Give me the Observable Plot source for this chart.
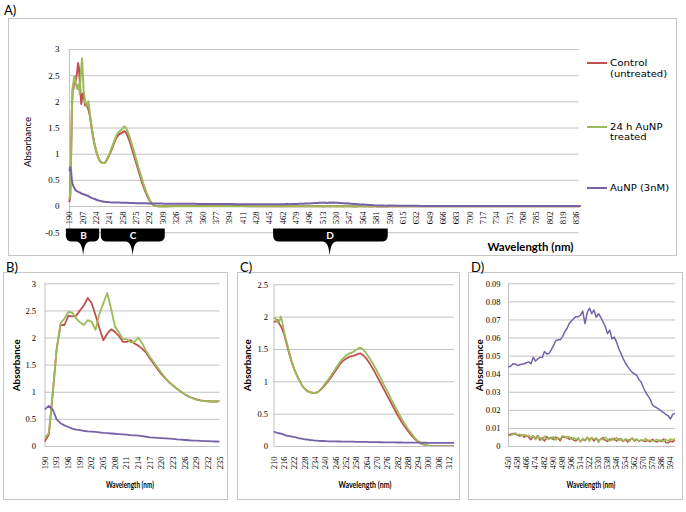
<!DOCTYPE html>
<html><head><meta charset="utf-8">
<script src="https://cdn.jsdelivr.net/npm/d3@7"></script>
<script src="https://cdn.jsdelivr.net/npm/@observablehq/plot@0.6"></script>
<style>
body{margin:0;background:#fff}
#fig{position:relative;width:686px;height:512px;overflow:hidden;background:#fff}
.box{position:absolute;border:1px solid #c6c6c6;box-sizing:border-box}
.t{position:absolute;white-space:nowrap;line-height:1;color:#000}
</style></head><body><div id="fig"></div>
<script>
// ---------------- data ----------------
const seriesNames = ["Control (untreated)", "24 h AuNP treated", "AuNP (3nM)"];
const seriesColors = ["#C0504D", "#9BBB59", "#7662A6"];

// 190-235 nm, 1 nm step
const wl1 = d3.range(190, 236, 1);
const red1 = [0.10,0.22,0.98,1.80,2.24,2.24,2.41,2.40,2.41,2.51,
  2.60,2.74,2.64,2.42,2.18,1.96,2.08,2.16,2.11,2.04,
  1.93,1.93,1.96,1.90,1.86,1.80,1.73,1.62,1.52,1.42,
  1.33,1.25,1.18,1.12,1.06,1.01,0.96,0.92,0.89,0.87,
  0.85,0.84,0.835,0.83,0.83,0.835];
const green1 = [0.16,0.25,1.00,1.80,2.27,2.36,2.48,2.47,2.36,2.29,
  2.24,2.33,2.30,2.15,2.45,2.64,2.83,2.54,2.21,2.11,
  1.98,1.98,1.92,1.93,2.01,1.90,1.76,1.65,1.55,1.45,
  1.35,1.26,1.18,1.12,1.06,1.01,0.96,0.92,0.885,0.86,
  0.845,0.835,0.83,0.83,0.83,0.84];
const purple1 = [0.69,0.75,0.68,0.50,0.43,0.39,0.36,0.33,0.31,0.30,
  0.29,0.28,0.275,0.27,0.26,0.25,0.245,0.24,0.235,0.23,
  0.225,0.22,0.21,0.205,0.20,0.19,0.18,0.17,0.165,0.16,
  0.155,0.15,0.145,0.14,0.13,0.125,0.12,0.115,0.11,0.108,
  0.105,0.10,0.098,0.095,0.092,0.09];

// 236-316 nm, 2 nm step
const wl2 = d3.range(236, 317, 2);
const red2 = [0.85,0.90,0.96,1.03,1.10,1.18,1.26,1.32,1.36,1.39,
  1.40,1.42,1.44,1.41,1.35,1.27,1.18,1.08,0.98,0.88,
  0.78,0.68,0.58,0.48,0.39,0.31,0.235,0.17,0.115,0.07,
  0.04,0.022,0.012,0.008,0.006,0.005,0.006,0.005,0.006,0.005,
  0.006];
const green2 = [0.85,0.91,0.98,1.05,1.13,1.21,1.29,1.36,1.41,1.44,
  1.46,1.50,1.53,1.50,1.43,1.35,1.26,1.16,1.06,0.95,
  0.85,0.74,0.64,0.54,0.44,0.35,0.27,0.20,0.13,0.08,
  0.045,0.025,0.012,0.005,0.002,0.0,0.001,0.0,0.002,0.001,
  0.003];
const purple2 = [0.088,0.085,0.082,0.080,0.079,0.078,0.077,0.076,0.075,0.075,
  0.074,0.073,0.072,0.071,0.070,0.069,0.068,0.067,0.066,0.065,
  0.064,0.064,0.063,0.062,0.062,0.061,0.061,0.060,0.060,0.059,
  0.058,0.058,0.057,0.057,0.056,0.056,0.056,0.055,0.055,0.055,
  0.055];

// 324-444 nm, 8 nm step
const wl3 = d3.range(324, 445, 8);
const red3 = [0.008,0.009,0.010,0.010,0.011,0.010,0.010,0.009,0.009,0.008,0.008,0.008,0.007,0.007,0.007,0.007];
const green3 = [0.004,0.005,0.006,0.006,0.007,0.007,0.007,0.006,0.006,0.006,0.006,0.006,0.006,0.006,0.006,0.006];
const purple3 = [0.054,0.053,0.052,0.051,0.050,0.049,0.048,0.048,0.047,0.046,0.045,0.045,0.044,0.044,0.044,0.044];

// 450-598 nm, 2 nm step
const wl4 = d3.range(450, 599, 2);
const red4 = [0.0065,0.0068,0.0072,0.0070,0.0062,0.0058,0.0064,0.0052,0.0062,0.0050,
  0.0038,0.0058,0.0045,0.0060,0.0035,0.0048,0.0030,0.0055,0.0042,0.0050,
  0.0038,0.0052,0.0045,0.0032,0.0055,0.0050,0.0052,0.0040,0.0048,0.0035,
  0.0030,0.0045,0.0028,0.0040,0.0032,0.0050,0.0038,0.0048,0.0030,0.0045,
  0.0032,0.0040,0.0050,0.0035,0.0028,0.0042,0.0036,0.0045,0.0030,0.0042,
  0.0038,0.0028,0.0040,0.0025,0.0038,0.0045,0.0030,0.0040,0.0028,0.0035,
  0.0030,0.0028,0.0035,0.0026,0.0040,0.0030,0.0025,0.0035,0.0028,0.0042,
  0.0022,0.0020,0.0030,0.0025,0.0035];
const green4 = [0.0060,0.0062,0.0068,0.0075,0.0065,0.0068,0.0058,0.0066,0.0055,0.0062,
  0.0050,0.0060,0.0038,0.0056,0.0048,0.0036,0.0058,0.0040,0.0050,0.0042,
  0.0055,0.0035,0.0048,0.0042,0.0060,0.0055,0.0045,0.0056,0.0040,0.0050,
  0.0038,0.0048,0.0025,0.0045,0.0035,0.0052,0.0028,0.0050,0.0040,0.0048,
  0.0022,0.0045,0.0036,0.0052,0.0040,0.0030,0.0046,0.0035,0.0050,0.0032,
  0.0045,0.0030,0.0042,0.0038,0.0030,0.0048,0.0035,0.0042,0.0030,0.0038,
  0.0032,0.0045,0.0030,0.0035,0.0030,0.0032,0.0040,0.0030,0.0036,0.0028,
  0.0040,0.0030,0.0042,0.0035,0.0045];
const purple4 = [0.0441,0.0444,0.0458,0.0457,0.0448,0.0452,0.0455,0.0458,0.0463,0.0468,
  0.0458,0.0494,0.0472,0.0485,0.0493,0.0494,0.0525,0.0512,0.0515,0.0535,
  0.0558,0.0585,0.0590,0.0590,0.0608,0.0635,0.0653,0.0680,0.0694,0.0708,
  0.0718,0.0718,0.0725,0.0749,0.0680,0.0740,0.0765,0.0735,0.0755,0.0715,
  0.0735,0.0715,0.0690,0.0665,0.0625,0.0644,0.0595,0.0605,0.0579,0.0542,
  0.0515,0.0485,0.0462,0.0442,0.0425,0.0410,0.0402,0.0393,0.0370,0.0355,
  0.0325,0.0300,0.0280,0.0262,0.0230,0.0220,0.0214,0.0205,0.0196,0.0188,
  0.0176,0.0170,0.0152,0.0178,0.0183];

// 610-840 nm, 10 nm step
const wl5 = d3.range(610, 841, 10);
const red5 = [0.003,0.003,0.004,0.003,0.003,0.004,0.003,0.003,0.004,0.003,0.003,0.003,0.004,0.003,0.003,0.003,0.004,0.003,0.003,0.004,0.003,0.003,0.003,0.003];
const green5 = [0.004,0.004,0.003,0.004,0.004,0.003,0.004,0.004,0.003,0.004,0.004,0.004,0.003,0.004,0.004,0.004,0.003,0.004,0.004,0.003,0.004,0.004,0.004,0.004];
const purple5 = [0.016,0.014,0.013,0.012,0.012,0.011,0.011,0.010,0.010,0.010,0.010,0.009,0.009,0.009,0.009,0.009,0.010,0.009,0.009,0.011,0.009,0.009,0.009,0.009];

// tick labels
const xTicksA = d3.range(190, 837, 17);
const yTicksA = [-0.5, 0, 0.5, 1, 1.5, 2, 2.5, 3];
const xTicksB = d3.range(190, 236, 3);
const yTicksB = [0, 0.5, 1, 1.5, 2, 2.5, 3];
const xTicksC = d3.range(210, 313, 6);
const yTicksC = [0, 0.5, 1, 1.5, 2, 2.5];
const xTicksD = d3.range(450, 595, 8);
const yTicksD = [0, 0.01, 0.02, 0.03, 0.04, 0.05, 0.06, 0.07, 0.08, 0.09];

// zoom brackets under panel A (wavelength ranges)
const bracketLabels = ["B", "C", "D"];
const bracketStart = [186, 230.5, 450];
const bracketEnd = [228.5, 312, 596];
const bracketTip = [208, 271, 522];

// ---------------- build table ----------------
const wls = [wl1, wl2, wl3, wl4, wl5];
const vals = [
  [red1, red2, red3, red4, red5],
  [green1, green2, green3, green4, green5],
  [purple1, purple2, purple3, purple4, purple5]
];
const all = [];
seriesNames.forEach((s, si) => {
  wls.forEach((w, ri) => w.forEach((x, i) => all.push({s, wl: x, v: vals[si][ri][i]})));
});

const GRID = "#c2c2c2";
const SERIF = "'Liberation Serif','DejaVu Serif',serif";
const SANS = "Lato,'Open Sans',sans-serif";
const fig = document.getElementById("fig");

function box(l, t, w, h) {
  const d = document.createElement("div");
  d.className = "box";
  Object.assign(d.style, {left: l + "px", top: t + "px", width: w + "px", height: h + "px"});
  fig.appendChild(d);
}
function place(svg, l, t) {
  svg.style.position = "absolute";
  svg.style.left = l + "px";
  svg.style.top = t + "px";
  svg.style.overflow = "visible";
  fig.appendChild(svg);
}
function label(text, o) {
  const s = document.createElement("span");
  s.className = "t";
  s.textContent = text;
  s.style.fontSize = o.size + "px";
  s.style.fontWeight = o.weight || 400;
  s.style.fontFamily = o.family || SANS;
  if (o.ls) s.style.letterSpacing = o.ls + "px";
  fig.appendChild(s);
  const mw = s.offsetWidth, mh = s.offsetHeight;
  const k = o.w ? o.w / mw : 1;
  if (o.left != null) {
    s.style.left = o.left + "px";
    s.style.transformOrigin = "left center";
  } else {
    s.style.left = (o.cx - mw / 2) + "px";
  }
  s.style.top = (o.cy - mh / 2) + "px";
  s.style.transform = `rotate(${o.rot || 0}deg) scaleX(${k})`;
}

const colorScale = {domain: seriesNames, range: seriesColors};

// ---------------- panel A ----------------
function bracketMark(index, scales) {
  const {x, y} = scales;
  const g = d3.create("svg:g");
  bracketLabels.forEach((lab, i) => {
    const x1 = x(bracketStart[i]), x2 = x(bracketEnd[i]), xm = x(bracketTip[i]);
    const yt = y(-0.43), yb = y(-0.68), yp = y(-0.95);
    const r = 6;
    const p = d3.path();
    p.moveTo(x1, yt); p.lineTo(x2, yt); p.lineTo(x2, yb - r);
    p.quadraticCurveTo(x2, yb, x2 - r, yb);
    p.lineTo(xm + 7, yb);
    p.quadraticCurveTo(xm + 1, yb, xm, yp);
    p.quadraticCurveTo(xm - 1, yb, xm - 7, yb);
    p.lineTo(x1 + r, yb);
    p.quadraticCurveTo(x1, yb, x1, yb - r);
    p.closePath();
    g.append("path").attr("d", p.toString()).attr("fill", "#000");
  });
  return g.node();
}

box(8, 18, 669, 238);
const plotA = Plot.plot({
  width: 669, height: 237,
  marginLeft: 61, marginRight: 98.5, marginTop: 31, marginBottom: 22.8,
  x: {domain: [190, 839], axis: null},
  y: {domain: [-0.5, 3], axis: null},
  color: colorScale,
  style: {background: "transparent", overflow: "visible"},
  marks: [
    Plot.ruleY(yTicksA, {stroke: GRID, strokeWidth: 1}),
    Plot.ruleX([190], {y1: -0.5, y2: 3, stroke: GRID}),
    Plot.axisY(yTicksA, {tickSize: 0, tickPadding: 10, tickFormat: d => String(d), fontFamily: SERIF, fontSize: 9, label: null}),
    Plot.text(xTicksA, {x: d => d, y: 0, text: d => String(d), rotate: -90, textAnchor: "end", lineAnchor: "middle", dy: 5, fontFamily: SERIF, fontSize: 8.5}),
    bracketMark,
    Plot.text(bracketLabels, {x: (d, i) => bracketTip[i], y: -0.555, text: d => d, fill: "white", fontWeight: "bold", fontSize: 10, fontFamily: SANS}),
    Plot.line(all, {x: "wl", y: "v", z: "s", stroke: "s", strokeWidth: 2})
  ]
});
place(plotA, 8, 18);

// legend A
const legY = [[63.3, 74], [126.7, 136.7], [188.3]];
const legText = [["Control", "(untreated)"], ["24 h AuNP", "treated"], ["AuNP (3nM)"]];
const legW = [[37, 57], [53, 37], [59]];
legText.forEach((lines, i) => {
  const ln = document.createElement("div");
  Object.assign(ln.style, {position: "absolute", left: "587px", top: (legY[i][0] - 1) + "px", width: "20px", height: "2px", background: seriesColors[i]});
  fig.appendChild(ln);
  lines.forEach((t, j) => label(t, {left: 609.5, cy: legY[i][j], size: 9.5, w: legW[i][j], family: "'DejaVu Sans',sans-serif"}));
});

label("A)", {left: 4, cy: 10, size: 13});
label("Absorbance", {cx: 27, cy: 142, size: 10, w: 50, rot: -90});
label("Wavelength (nm)", {cx: 530, cy: 247, size: 10.5, weight: 700, w: 86});

// ---------------- panels B, C, D ----------------
function panel(o) {
  const data = all.filter(d => d.wl >= o.xDomain[0] - 0.5 && d.wl <= o.xDomain[1] + 2);
  box(o.left, 272, o.width, 228);
  const p = Plot.plot({
    width: o.width, height: 228,
    marginLeft: o.ml, marginRight: o.mr, marginTop: o.mt, marginBottom: 54,
    x: {domain: o.xDomain, axis: null},
    y: {domain: o.yDomain, axis: null},
    color: colorScale,
    style: {background: "transparent", overflow: "visible"},
    marks: [
      Plot.ruleY(o.yTicks, {stroke: GRID}),
      Plot.ruleX([o.xDomain[0]], {y1: o.yDomain[0], y2: o.yDomain[1], stroke: GRID}),
      Plot.axisY(o.yTicks, {tickSize: 0, tickPadding: o.ytp, tickFormat: d => String(d), fontFamily: SERIF, fontSize: 8.5, label: null}),
      Plot.axisX(o.xTicks, {tickSize: 0, tickPadding: 10, tickRotate: -90, tickFormat: d => String(d), fontFamily: SERIF, fontSize: 8.5, label: null}),
      Plot.line(data, {x: "wl", y: "v", z: "s", stroke: "s", strokeWidth: o.sw, clip: true})
    ]
  });
  place(p, o.left, 272);
  label(o.name, {left: o.left + 3, cy: 267, size: 13});
  label("Absorbance", {cx: o.absX, cy: 365, size: 8.5, weight: 700, w: 52, rot: -90});
  label("Wavelength (nm)", {cx: o.wlX, cy: 485, size: 8.5, weight: 700, w: o.wlW});
}

panel({name: "B)", left: 3, width: 225, ml: 41.5, mr: 8.5, mt: 11.3,
  xDomain: [190, 235], yDomain: [0, 3], xTicks: xTicksB, yTicks: yTicksB, ytp: 9, sw: 1.8,
  absX: 17, wlX: 130, wlW: 48});
panel({name: "C)", left: 237, width: 223, ml: 36.5, mr: 6, mt: 12.3,
  xDomain: [210, 315], yDomain: [0, 2.5], xTicks: xTicksC, yTicks: yTicksC, ytp: 6, sw: 1.8,
  absX: 248.5, wlX: 365, wlW: 53});
panel({name: "D)", left: 468, width: 215, ml: 40, mr: 8, mt: 11.3,
  xDomain: [450, 598.5], yDomain: [0, 0.09], xTicks: xTicksD, yTicks: yTicksD, ytp: 8, sw: 1.5,
  absX: 480.5, wlX: 591, wlW: 49});
</script></body></html>
